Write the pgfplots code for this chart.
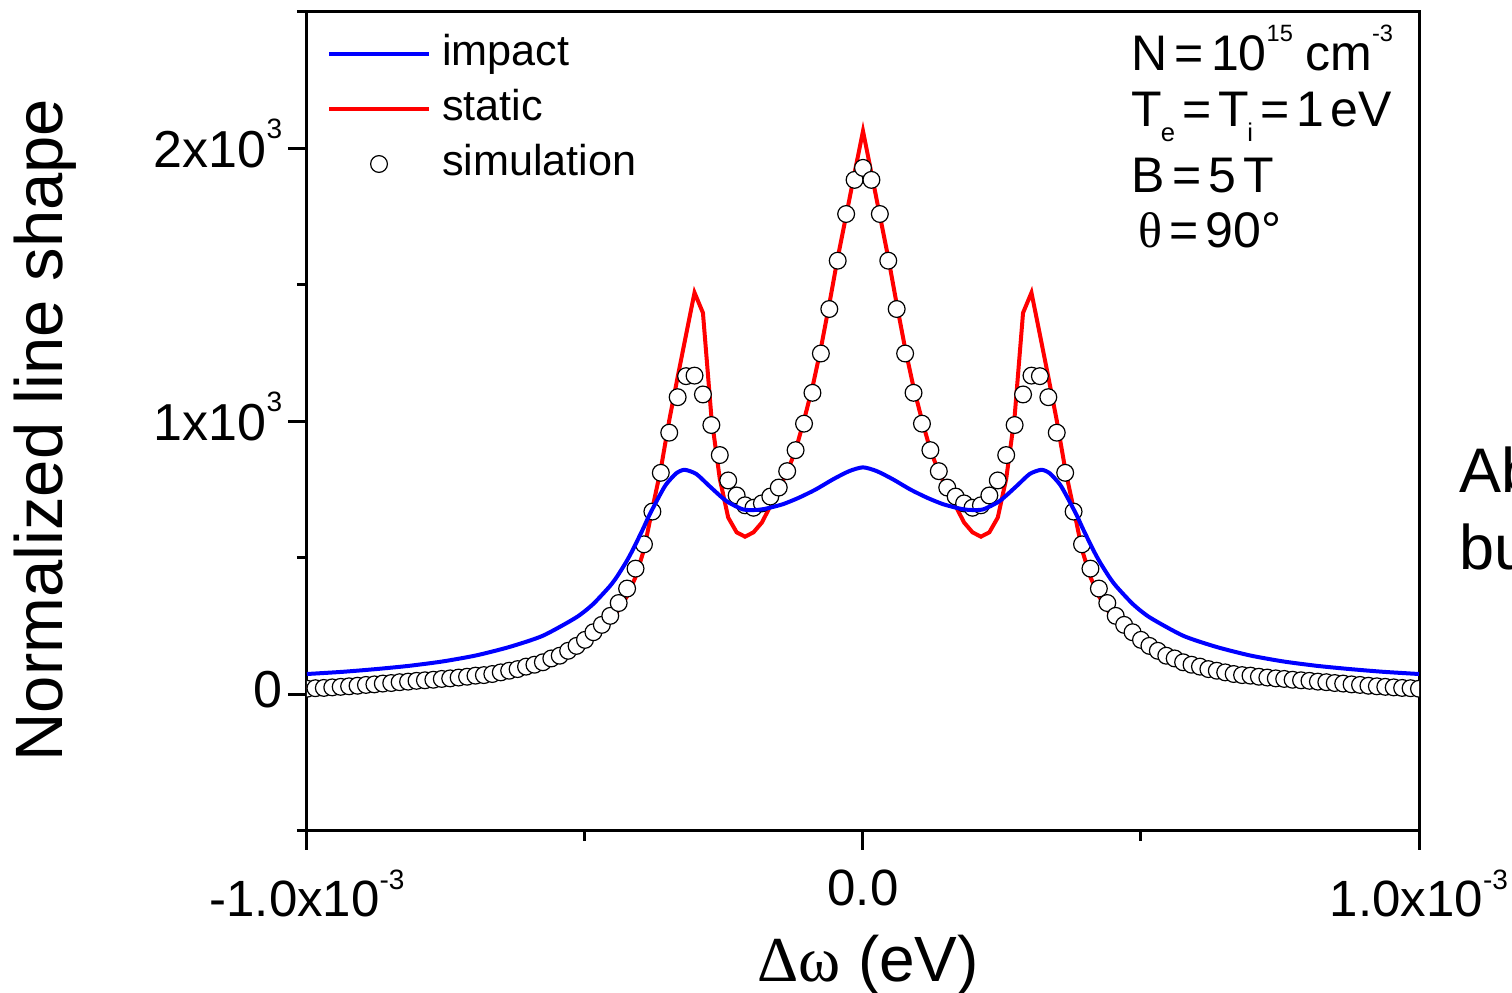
\documentclass[border=0pt]{standalone}
\usepackage{fontspec}
\setmainfont{Liberation Sans}
\newfontfamily\serifgr{Liberation Serif}
\usepackage{pgfplots}
\pgfplotsset{compat=1.18}
\usepackage{pgfplotstable}

\newcommand{\fs}[1]{\fontsize{#1}{#1}\selectfont}
\newcommand{\supy}[1]{\raisebox{7.4pt}{\fs{7}#1}}
\newcommand{\supx}[1]{\raisebox{6.7pt}{\fs{7}#1}}
\newcommand{\supa}[1]{\raisebox{7.3pt}{\fs{5.9}#1}}
\newcommand{\suba}[1]{\raisebox{-3.7pt}{\fs{6.4}#1}}
\newcommand{\sk}{\hspace{0.14em}}

\pgfplotsset{
  linelegend/.style={legend image code/.code={\draw[##1] (0pt,0pt) -- (25pt,0pt);}},
  marklegend/.style={legend image code/.code={\path[draw=none] (0pt,0pt) -- (25pt,0pt); \draw[mark repeat=1,mark phase=1,##1] plot coordinates {(12.5pt,0pt)};}},
}

% simulation (sim) and static line shape, x = k/66 (units of 1e-3 eV)
\pgfplotstableread{
k sim stat
-66 21 23
-65 23 24
-64 24 26
-63 26 28
-62 28 30
-61 30 32
-60 32 34
-59 35 36
-58 37 38
-57 40 40
-56 42 42
-55 45 44
-54 47 46
-53 50 48
-52 52 50
-51 54 52
-50 57 54
-49 59 57
-48 62 60
-47 65 63
-46 69 66
-45 71 70
-44 75 74
-43 81 79
-42 87 85
-41 93 91
-40 102 98
-39 109 106
-38 118 115
-37 132 126
-36 142 138
-35 160 152
-34 178 169
-33 200 189
-32 228 212
-31 255 238
-30 288 268
-29 335 310
-28 388 360
-27 461 430
-26 550 530
-25 670 681
-24 812 826
-23 959 1004
-22 1089 1163
-21 1166 1318
-20 1168 1472
-19 1099 1398
-18 987 1018
-17 877 790
-16 784 648
-15 729 594
-14 693 578
-13 684 594
-12 700 630
-11 725 690
-10 758 750
-9 818 815
-8 895 895
-7 992 1005
-6 1105 1125
-5 1249 1268
-4 1412 1430
-3 1589 1600
-2 1760 1754
-1 1885 1910
0 1929 2064
1 1885 1910
2 1760 1754
3 1589 1600
4 1412 1430
5 1249 1268
6 1105 1125
7 992 1005
8 895 895
9 818 815
10 758 750
11 725 690
12 700 630
13 684 594
14 693 578
15 729 594
16 784 648
17 877 790
18 987 1018
19 1099 1398
20 1168 1472
21 1166 1318
22 1089 1163
23 959 1004
24 812 826
25 670 681
26 550 530
27 461 430
28 388 360
29 335 310
30 288 268
31 255 238
32 228 212
33 200 189
34 178 169
35 160 152
36 142 138
37 132 126
38 118 115
39 109 106
40 102 98
41 93 91
42 87 85
43 81 79
44 75 74
45 71 70
46 69 66
47 65 63
48 62 60
49 59 57
50 57 54
51 54 52
52 52 50
53 50 48
54 47 46
55 45 44
56 42 42
57 40 40
58 37 38
59 35 36
60 32 34
61 30 32
62 28 30
63 26 28
64 24 26
65 23 24
66 21 23
}\datatab

% impact line shape, x in units of 1e-3 eV
\pgfplotstableread{
x y
-1.000 75
-0.936 83
-0.876 93
-0.816 105
-0.756 121
-0.696 143
-0.636 174
-0.576 215
-0.516 282
-0.486 330
-0.456 395
-0.443 430
-0.426 485
-0.414 530
-0.396 605
-0.384 658
-0.366 728
-0.354 770
-0.336 810
-0.321 823
-0.300 808
-0.276 763
-0.246 709
-0.216 678
-0.192 676
-0.174 681
-0.144 697
-0.115 721
-0.085 751
-0.054 788
-0.025 818
0.000 832
0.025 818
0.054 788
0.085 751
0.115 721
0.144 697
0.174 681
0.192 676
0.216 678
0.246 709
0.276 763
0.300 808
0.321 823
0.336 810
0.354 770
0.366 728
0.384 658
0.396 605
0.414 530
0.426 485
0.443 430
0.456 395
0.486 330
0.516 282
0.576 215
0.636 174
0.696 143
0.756 121
0.816 105
0.876 93
0.936 83
1.000 75
}\impacttab

\begin{document}
\begin{tikzpicture}
\useasboundingbox (-76.75pt,-40.5pt) rectangle (301.25pt,207.75pt);
\begin{axis}[
  at={(0pt,0pt)}, anchor=south west,
  scale only axis, width=278pt, height=204.75pt,
  xmin=-1, xmax=1, ymin=-500, ymax=2500,
  clip marker paths=true,
  axis line style={line width=0.75pt},
  every tick/.style={black, line width=0.75pt},
  tick align=outside,
  xtick pos=left, ytick pos=left,
  major tick length=4.75pt, minor tick length=2.5pt,
  xtick={-1,0,1}, minor xtick={-0.5,0.5},
  ytick={0,1000,2000}, minor ytick={-500,500,1500,2500},
  xticklabels={-1.0x10\supx{-3}, 0.0, 1.0x10\supx{-3}},
  yticklabels={0, 1x10\supy{3}, 2x10\supy{3}},
  xticklabel style={font=\fs{12.75}, inner sep=0pt, anchor=north, yshift=-4.75pt},
  yticklabel style={font=\fs{13}, inner sep=0pt, anchor=east, xshift=-1.25pt, yshift=1.25pt},
  xlabel={{\serifgr Δω} (eV)},
  xlabel style={font=\fs{16}, at={(axis description cs:0.5045,-0.1832)}, anchor=base},
  ylabel={Normalized line shape},
  ylabel style={font=\fs{16.75}, at={(axis description cs:-0.2203,0.4896)}, anchor=base},
  legend style={draw=none, fill=none, inner sep=0pt, outer sep=0pt,
    at={(axis description cs:0.018,0.9719)}, anchor=north west,
    font=\fs{10.8}, row sep=4.25pt,
    nodes={inner sep=0pt, text height=7.5pt, text depth=2pt},
    /tikz/every odd column/.append style={column sep=2.75pt}},
  legend cell align=left,
]
\addlegendimage{blue, line width=1pt, linelegend}
\addlegendentry{impact}
\addlegendimage{red, line width=1pt, linelegend}
\addlegendentry{static}
\addlegendimage{only marks, mark=*, mark size=2.1pt, mark options={draw=black, fill=white, line width=0.3pt}, marklegend}
\addlegendentry{simulation}

\addplot[red, line width=1pt, forget plot] table[x expr=\thisrow{k}/66, y=stat] {\datatab};
\addplot[only marks, mark=*, mark size=2.1pt, mark options={draw=black, fill=white, line width=0.3pt}, forget plot]
  table[x expr=\thisrow{k}/66, y=sim] {\datatab};
\addplot[blue, line width=1pt, smooth, tension=0.4, forget plot] table[x=x, y=y] {\impacttab};
\end{axis}

\node[anchor=base west, font=\fs{12.5}, inner sep=0pt] at (206pt,190pt) {N\sk=\sk10\supa{15}\hspace{0.25em}cm\supa{-3}};
\node[anchor=base west, font=\fs{12.5}, inner sep=0pt] at (206pt,176pt) {T\kern-0.03em\suba{e}\sk=\sk T\kern-0.03em\suba{i}\sk=\sk1\sk eV};
\node[anchor=base west, font=\fs{12.5}, inner sep=0pt] at (206pt,159.5pt) {B\sk=\sk5\sk T};
\node[anchor=base west, font=\fs{12.5}, inner sep=0pt] at (207.75pt,145.75pt) {{\serifgr θ}\sk=\sk90°};

\node[anchor=base west, font=\fs{15.75}, inner sep=0pt] at (288pt,84.5pt) {Ab};
\node[anchor=base west, font=\fs{15.75}, inner sep=0pt] at (288pt,65.25pt) {bu};
\end{tikzpicture}
\end{document}
